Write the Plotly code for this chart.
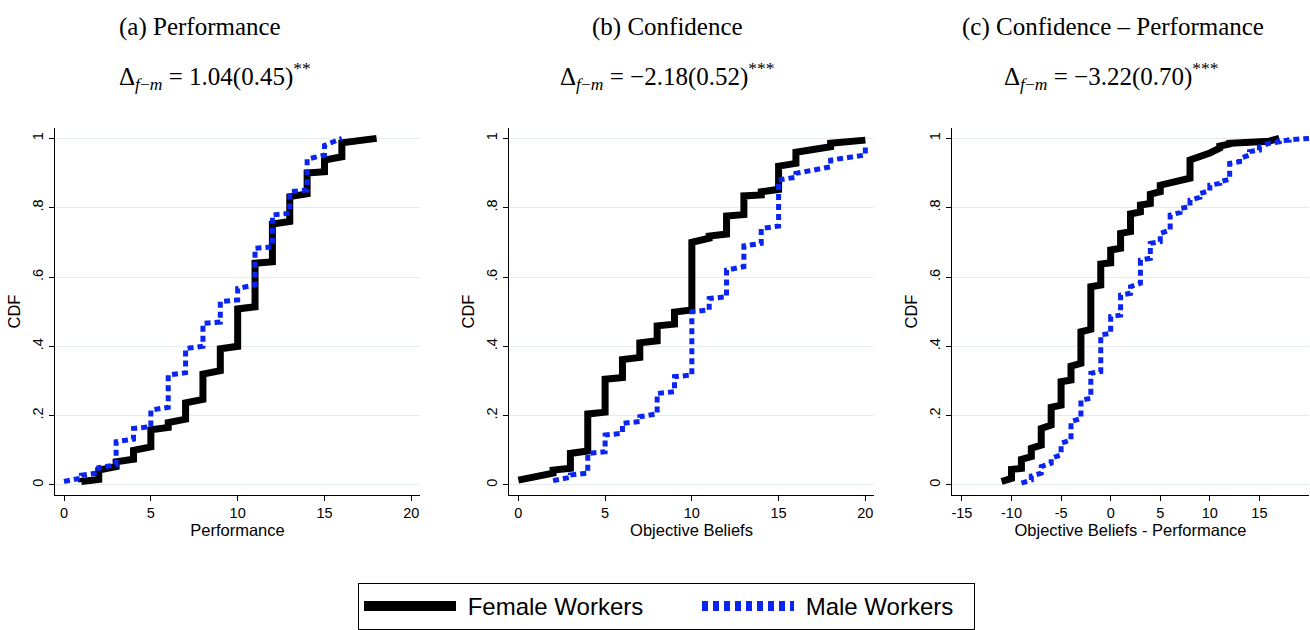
import plotly.graph_objects as go

# ---------------- data ----------------
# Panel (a) Performance
perf_f_x  = [1, 2, 3, 4, 5, 6, 7, 8, 9, 10, 11, 12, 13, 14, 15, 16, 18]
perf_f_lo = [0.008, 0.016, 0.053, 0.074, 0.11, 0.166, 0.19, 0.247, 0.33, 0.40, 0.514, 0.644, 0.76, 0.84, 0.904, 0.947, 1.0]
perf_f_hi = [0.010, 0.043, 0.067, 0.10, 0.159, 0.18, 0.237, 0.32, 0.393, 0.508, 0.64, 0.753, 0.832, 0.90, 0.9375, 0.987, 1.0]

perf_m_x  = [0, 1, 2, 3, 4, 5, 6, 7, 8, 9, 10, 11, 12, 13, 14, 15, 16]
perf_m_lo = [0.01, 0.02, 0.035, 0.058, 0.132, 0.168, 0.224, 0.324, 0.40, 0.47, 0.534, 0.577, 0.687, 0.784, 0.851, 0.952, 0.997]
perf_m_hi = [0.01, 0.028, 0.05, 0.125, 0.163, 0.216, 0.317, 0.394, 0.466, 0.529, 0.567, 0.683, 0.779, 0.846, 0.94, 0.98, 1.0]

# Panel (b) Confidence
conf_f_x  = [0, 2, 3, 4, 5, 6, 7, 8, 9, 10, 11, 12, 13, 14, 15, 16, 18, 20]
conf_f_lo = [0.014, 0.034, 0.048, 0.098, 0.21, 0.31, 0.368, 0.416, 0.464, 0.505, 0.712, 0.724, 0.78, 0.837, 0.853, 0.928, 0.976, 0.995]
conf_f_hi = [0.014, 0.043, 0.091, 0.205, 0.305, 0.362, 0.41, 0.459, 0.499, 0.70, 0.718, 0.776, 0.834, 0.846, 0.92, 0.96, 0.986, 0.995]

conf_m_x  = [2, 3, 4, 5, 6, 7, 8, 9, 10, 11, 12, 13, 14, 15, 16, 18, 20]
conf_m_lo = [0.0125, 0.022, 0.034, 0.096, 0.149, 0.183, 0.205, 0.269, 0.317, 0.505, 0.543, 0.63, 0.697, 0.747, 0.888, 0.918, 0.952]
conf_m_hi = [0.0125, 0.029, 0.091, 0.144, 0.178, 0.197, 0.264, 0.3125, 0.50, 0.538, 0.62, 0.69, 0.74, 0.88, 0.899, 0.9375, 0.98]

# Panel (c) Confidence - Performance
diff_f_x  = [-11, -10, -9, -8, -7, -6, -5, -4, -3, -2, -1, 0, 1, 2, 3, 4, 5, 8, 10, 11, 12, 16, 17]
diff_f_lo = [0.01, 0.019, 0.048, 0.082, 0.115, 0.173, 0.23, 0.303, 0.351, 0.449, 0.577, 0.641, 0.683, 0.731, 0.788, 0.8125, 0.846, 0.885, 0.953, 0.972, 0.984, 0.992, 1.0]
diff_f_hi = [0.01, 0.045, 0.074, 0.106, 0.163, 0.224, 0.298, 0.343, 0.442, 0.572, 0.6375, 0.678, 0.726, 0.782, 0.808, 0.839, 0.865, 0.9375, 0.958, 0.978, 0.986, 0.993, 1.0]

diff_m_x  = [-9, -8, -7, -6, -5, -4, -3, -2, -1, 0, 1, 2, 3, 4, 5, 6, 7, 8, 9, 10, 11, 12, 13, 14, 15, 16, 17, 18, 20]
diff_m_lo = [0.005, 0.014, 0.034, 0.0625, 0.087, 0.13, 0.192, 0.25, 0.327, 0.4375, 0.49, 0.553, 0.582, 0.654, 0.702, 0.736, 0.786, 0.803, 0.83, 0.849, 0.87, 0.882, 0.933, 0.952, 0.966, 0.984, 0.99, 0.995, 1.0]
diff_m_hi = [0.005, 0.026, 0.053, 0.077, 0.12, 0.183, 0.245, 0.322, 0.433, 0.486, 0.548, 0.572, 0.649, 0.697, 0.726, 0.779, 0.798, 0.822, 0.841, 0.865, 0.875, 0.928, 0.942, 0.962, 0.976, 0.986, 0.993, 0.996, 1.0]

panel_titles = ["(a) Performance", "(b) Confidence", "(c) Confidence \u2013 Performance"]
panel_stats = ["1.04(0.45)<sup>**</sup>", "\u22122.18(0.52)<sup>***</sup>", "\u22123.22(0.70)<sup>***</sup>"]
x_titles = ["Performance", "Objective Beliefs", "Objective Beliefs - Performance"]
x_ticks = [[0, 5, 10, 15, 20], [0, 5, 10, 15, 20], [-15, -10, -5, 0, 5, 10, 15]]
x_ticktext = [["0", "5", "10", "15", "20"], ["0", "5", "10", "15", "20"],
              ["-15", "-10", "-5", "0", "5", "10", "15"]]
x_ranges = [[-0.52, 20.5], [-0.54, 20.5], [-16.0, 20.0]]
y_ticks = [0, 0.2, 0.4, 0.6, 0.8, 1]
y_ticktext = ["0", ".2", ".4", ".6", ".8", "1"]
series_names = ["Female Workers", "Male Workers"]

panels = [
    ((perf_f_x, perf_f_lo, perf_f_hi), (perf_m_x, perf_m_lo, perf_m_hi)),
    ((conf_f_x, conf_f_lo, conf_f_hi), (conf_m_x, conf_m_lo, conf_m_hi)),
    ((diff_f_x, diff_f_lo, diff_f_hi), (diff_m_x, diff_m_lo, diff_m_hi)),
]


def step_path(xs, lo, hi):
    px, py = [], []
    for x, a, b in zip(xs, lo, hi):
        px += [x, x]
        py += [a, b]
    return px, py


W, H = 1310, 630
x_domains = [[55 / W, 420 / W], [509 / W, 874 / W], [952 / W, 1309 / W]]
y_domain = [1 - 495 / H, 1 - 128 / H]

fig = go.Figure()
BLUE = "#0a24f2"
styles = [dict(color="black", width=7), dict(color=BLUE, width=5, dash="6px,4px")]
legend_styles = [dict(color="black", width=10), dict(color=BLUE, width=10, dash="6px,5px")]
legend_widths = [231, 170]

for i, (fem, mal) in enumerate(panels):
    xa = "x" if i == 0 else f"x{i+1}"
    ya = "y" if i == 0 else f"y{i+1}"
    for j, (ser, st) in enumerate(zip((fem, mal), styles)):
        px, py = step_path(*ser)
        fig.add_trace(go.Scatter(
            x=px, y=py, mode="lines", line=st, name=series_names[j],
            showlegend=False, xaxis=xa, yaxis=ya, hoverinfo="skip"))

# legend entries (no data drawn; thicker sample lines as in the reference key)
for j in range(2):
    fig.add_trace(go.Scatter(
        x=[None], y=[None], mode="lines", line=legend_styles[j],
        name="\u00a0" + series_names[j], showlegend=True, hoverinfo="skip",
        legendwidth=legend_widths[j]))

tick_font = dict(family="Liberation Sans, Arial, sans-serif", size=14.5, color="black")
title_font_ax = dict(family="Liberation Sans, Arial, sans-serif", size=16.5, color="black")
for i in range(3):
    sx = "xaxis" if i == 0 else f"xaxis{i+1}"
    sy = "yaxis" if i == 0 else f"yaxis{i+1}"
    ya = "y" if i == 0 else f"y{i+1}"
    xa = "x" if i == 0 else f"x{i+1}"
    fig.layout[sx] = dict(
        domain=x_domains[i], range=x_ranges[i], anchor=ya,
        tickvals=x_ticks[i], ticktext=x_ticktext[i], ticks="outside", ticklen=5, tickcolor="black",
        showline=True, linecolor="black", linewidth=1, showgrid=False, zeroline=False,
        tickfont=tick_font, title=dict(text=x_titles[i], font=title_font_ax, standoff=0),
        automargin=False)
    fig.layout[sy] = dict(
        domain=y_domain, range=[-0.029, 1.03], anchor=xa,
        tickvals=y_ticks, ticktext=y_ticktext, tickangle=-90,
        ticks="outside", ticklen=5, tickcolor="black",
        showline=True, linecolor="black", linewidth=1,
        showgrid=True, gridcolor="#e4ecec", gridwidth=1, zeroline=False,
        tickfont=tick_font, title=dict(text="CDF", font=title_font_ax, standoff=5),
        automargin=False)

title_font = dict(family="Liberation Serif, Times New Roman, serif", size=25, color="black")
title_x = [200 / W, 667 / W, 1113 / W]
stat_x = [215 / W, 667 / W, 1111 / W]
for i in range(3):
    fig.add_annotation(text=panel_titles[i], x=title_x[i], y=1 - 27 / H, xref="paper", yref="paper",
                       showarrow=False, font=title_font, xanchor="center", yanchor="middle")
    fig.add_annotation(text="\u0394<sub><i>f</i>\u2212<i>m</i></sub> = " + panel_stats[i],
                       x=stat_x[i], y=1 - 76 / H, xref="paper", yref="paper",
                       showarrow=False, font=title_font, xanchor="center", yanchor="middle")

fig.update_layout(
    width=W, height=H, margin=dict(l=0, r=0, t=0, b=0),
    paper_bgcolor="white", plot_bgcolor="white",
    legend=dict(orientation="h", x=358 / W, xanchor="left", y=1 - 583 / H, yanchor="top",
                font=dict(family="Liberation Sans, Arial, sans-serif", size=24, color="black"),
                bordercolor="black", borderwidth=1, bgcolor="white", itemwidth=92,
                tracegroupgap=0),
)

fig.write_html("out.html", config={"displayModeBar": False},
               post_script="document.body.style.margin='0';")
